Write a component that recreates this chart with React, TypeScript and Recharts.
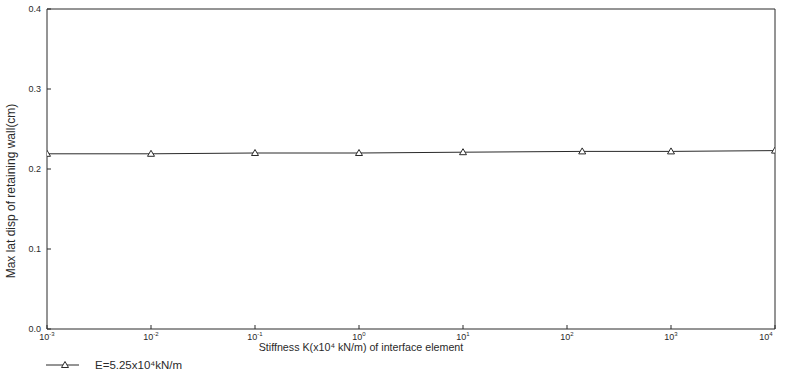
import { LineChart, Line, XAxis, YAxis, Legend, Label } from 'recharts'

const stiffness = [0.001, 0.01, 0.1, 1, 10, 140, 1000, 10000]
const maxDisp = [0.219, 0.219, 0.22, 0.22, 0.221, 0.222, 0.222, 0.223]
const xTicks = [0.001, 0.01, 0.1, 1, 10, 100, 1000, 10000]
const yTicks = [0, 0.1, 0.2, 0.3, 0.4]
const seriesName = 'E=5.25x10⁴kN/m'

const data = stiffness.map((k, i) => ({ k, disp: maxDisp[i] }))

const INK = '#2a2a2a'
const FONT = '"Liberation Sans", Arial, sans-serif'

function Tri({ cx, cy }: any) {
  if (cx == null || cy == null) return null
  return (
    <path
      d={`M${cx},${cy - 3.5} L${cx + 3.5},${cy + 2.5} L${cx - 3.5},${cy + 2.5} Z`}
      fill="#fff"
      stroke={INK}
      strokeWidth={1}
    />
  )
}

function PowTick({ x, y, payload }: any) {
  const exp = Math.round(Math.log10(payload.value))
  return (
    <text x={x} y={y} textAnchor="middle" fill={INK} fontSize={9} fontFamily={FONT} dy={9}>
      10<tspan fontSize={6} dy={-4}>{exp}</tspan>
    </text>
  )
}

function YTitle({ viewBox }: any) {
  const x = viewBox.x + 15
  const y = viewBox.y + viewBox.height / 2 + 22
  return (
    <text
      x={x}
      y={y}
      transform={`rotate(-90, ${x}, ${y})`}
      textAnchor="middle"
      fontSize={12}
      fontFamily={FONT}
      fill={INK}
    >
      Max lat disp of retaining wall(cm)
    </text>
  )
}

function LegendBox() {
  return (
    <svg width={220} height={16}>
      <line x1={0} y1={8} x2={33} y2={8} stroke={INK} strokeWidth={1} />
      <Tri cx={19} cy={8} />
      <text x={49} y={12} fontSize={11.5} fontFamily={FONT} fill={INK}>{seriesName}</text>
    </svg>
  )
}

export default function App() {
  return (
    <div style={{ position: 'absolute', left: 0, top: 0, background: '#fff' }}>
      <LineChart width={786} height={380} data={data} margin={{ top: 8, right: 10, left: 0, bottom: 5 }}>
        <XAxis
          dataKey="k"
          type="number"
          scale="log"
          domain={[0.001, 10000]}
          ticks={xTicks}
          allowDataOverflow
          stroke={INK}
          tickSize={-4}
          tickMargin={6}
          tick={<PowTick />}
          height={30}
        >
          <Label
            value="Stiffness K(x10⁴ kN/m) of interface element"
            position="insideBottom"
            offset={8}
            dx={-50}
            style={{ fontSize: 10.7, fontFamily: FONT, fill: INK }}
          />
        </XAxis>
        <XAxis
          xAxisId="top"
          orientation="top"
          dataKey="k"
          type="number"
          scale="log"
          domain={[0.001, 10000]}
          ticks={xTicks}
          allowDataOverflow
          stroke={INK}
          tickSize={-4}
          tick={false}
          height={1}
        />
        <YAxis
          domain={[0, 0.4]}
          ticks={yTicks}
          stroke={INK}
          tickSize={-4}
          tickMargin={10}
          width={47}
          tickFormatter={(v: number) => v.toFixed(1)}
          tick={{ fontSize: 9, fontFamily: FONT, fill: INK }}
        >
          <Label content={<YTitle />} />
        </YAxis>
        <YAxis
          yAxisId="right"
          orientation="right"
          domain={[0, 0.4]}
          ticks={yTicks}
          stroke={INK}
          tickSize={-4}
          tick={false}
          width={1}
        />
        <Legend
          layout="horizontal"
          verticalAlign="bottom"
          align="left"
          content={() => <LegendBox />}
          wrapperStyle={{ left: 46, top: 357, width: 220, height: 16 }}
        />
        <Line
          dataKey="disp"
          name={seriesName}
          stroke={INK}
          strokeWidth={1}
          dot={<Tri />}
          activeDot={false}
          isAnimationActive={false}
        />
      </LineChart>
    </div>
  )
}
